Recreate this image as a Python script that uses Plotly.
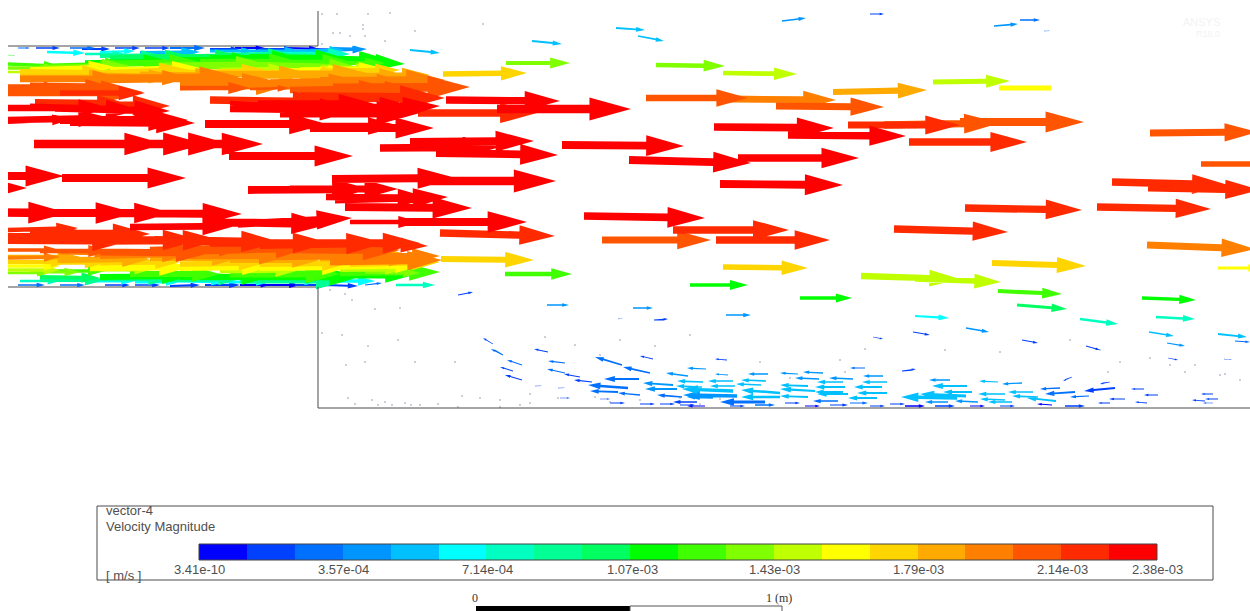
import plotly.graph_objects as go

# Legend data
legend_title = "vector-4"
legend_variable = "Velocity Magnitude"
legend_unit = "[ m/s ]"
tick_labels = ["3.41e-10", "3.57e-04", "7.14e-04", "1.07e-03", "1.43e-03", "1.79e-03", "2.14e-03", "2.38e-03"]
tick_positions = [199, 343, 487, 632, 774, 918, 1062, 1157]
band_colors = ["#0000ff", "#0040ff", "#0070ff", "#0095ff", "#00c0ff", "#00ffff", "#00ffc0", "#00ff95", "#00ff60", "#00ff00",
               "#40ff00", "#80ff00", "#bfff00", "#ffff00", "#ffd500", "#ffaa00", "#ff8000", "#ff5500", "#ff2a00", "#ff0000"]

# Vectors: tail x, tail y, tip x, tip y, colour band
upper_jet = [
    (18,48,30,48,2),(36,48,60,48,1),(70,48,95,48,2),(82,49,110,49,1),(115,48,140,48,1),(145,48,170,48,1),(170,48,205,48,2),(210,49,240,49,1),
    (235,48,265,48,0),(260,49,295,49,1),(285,48,320,49,0),(310,49,345,50,1),(330,48,365,49,3),
    (47,52,85,53,5),(100,52,135,51,5),(85,54,125,54,6),(210,51,255,51,4),(250,51,300,51,4),(295,51,345,50,4),(320,51,367,49,3),(140,53,200,52,4),
    (8,55,15,56,9),(110,58,190,56,8),(160,57,240,56,8),(100,56,160,55,7),(220,55,290,54,7),(280,54,350,54,6),
    (85,63,170,61,9),(170,60,260,60,9),(210,58,300,58,9),(250,57,345,58,9),(290,58,390,60,9),(310,58,405,64,9),
    (8,64,60,66,10),(50,66,130,64,10),(100,64,200,62,10),(200,62,300,62,10),(250,63,355,63,10),(320,63,385,63,10),
    (8,68,60,68,11),(40,68,130,66,11),(160,66,270,65,11),(260,65,360,68,11),(320,67,372,68,12),
    (30,70,115,67,13),(110,70,200,68,13),(280,70,350,71,13),(300,70,385,69,13),(220,70,290,69,12),
    (20,72,110,73,14),(90,74,190,70,14),(180,73,270,71,14),(270,72,345,73,14),(320,71,400,70,14),
    (8,72,50,72,12),(20,78,120,78,15),(90,75,175,77,15),(140,74,220,75,15),(210,74,310,74,15),(250,75,370,74,15),(300,78,415,78,15),(340,76,430,75,15),
    (20,79,125,79,16),(100,77,190,78,16),(110,79,240,77,16),(180,82,270,80,16),(270,82,355,80,16),(320,81,445,80,16),(180,87,290,85,16),
    (8,86,60,86,17),(30,88,80,88,17),(180,88,250,88,17),(250,89,290,88,17),(290,90,390,88,17),(333,88,470,87,17),(280,85,420,86,16),
    (8,92,143,92,17),(60,93,145,93,18),(30,85,110,86,17),(300,97,445,98,18),(295,92,425,92,17),(210,100,330,102,18),
    (50,104,170,106,18),(35,102,125,103,18),
]
red_core = [
    (8,108,110,108,19),(30,107,140,110,19),(55,108,170,111,19),(8,122,72,119,19),(8,120,110,118,19),(60,120,188,120,19),(70,122,195,123,19),
    (230,108,360,110,19),(230,103,300,107,19),(258,104,375,104,19),(290,108,420,108,19),(320,110,440,106,19),(280,113,420,113,19),
    (205,124,327,124,19),(310,128,434,128,19),(297,126,400,126,19),
    (34,144,165,144,19),(70,144,205,144,19),(95,144,230,144,19),(130,144,263,144,19),(229,156,353,156,19),
    (-60,176,64,176,19),(62,178,186,178,19),(-90,188,27,188,19),
    (248,190,370,189,19),(290,189,398,189,19),(332,179,456,178,19),(420,181,556,181,19),(335,200,448,197,19),(326,197,430,198,19),(345,207,472,208,19),
    (-60,212,68,213,19),(8,213,135,213,19),(50,213,172,213,19),(115,213,242,214,19),
    (130,227,235,226,19),(238,224,352,218,19),(280,222,340,222,19),(350,222,420,222,19),(400,222,527,222,19),(205,222,330,224,19),
    (418,113,537,113,18),(446,100,560,101,19),(497,109,631,109,19),(410,142,534,141,19),(380,148,500,147,19),(436,153,558,155,19),
]
lower_jet = [
    (8,230,78,228,18),(30,233,150,234,18),(8,240,130,241,18),(80,240,200,240,18),(100,241,220,240,18),(155,240,280,242,18),(210,243,330,243,18),
    (260,245,385,243,18),(300,243,420,243,18),(340,243,428,246,18),(8,236,100,236,18),
    (8,250,60,250,17),(40,251,110,251,17),(100,252,210,253,17),(200,251,310,248,17),(150,250,250,247,17),(280,250,400,250,17),
    (8,258,60,257,16),(60,253,110,254,16),(100,256,190,254,16),(190,256,290,256,16),(270,257,370,256,16),(330,262,442,260,16),(350,256,440,256,16),
    (8,257,80,257,15),(60,260,150,259,15),(150,258,240,258,15),(230,260,320,260,15),(320,258,420,258,15),
    (8,262,70,262,14),(40,262,105,263,14),(100,263,180,262,14),(180,264,265,263,14),(260,264,350,263,14),(350,264,440,262,14),
    (8,266,60,266,13),(90,268,190,267,13),(180,268,270,267,13),(260,268,350,267,13),(340,267,420,266,13),
    (8,270,60,270,12),(100,270,150,270,12),(220,271,300,270,12),(340,270,405,269,12),
    (8,273,50,273,11),(30,272,80,272,11),(50,271,105,271,10),(130,274,220,274,10),(230,274,340,274,10),(340,273,440,272,10),(365,272,420,273,11),
    (100,277,190,276,9),(180,277,270,277,9),(260,277,360,277,9),(330,276,410,276,9),
    (40,277,100,278,8),(40,280,105,280,7),(100,279,170,279,7),(170,280,240,279,7),(240,280,350,280,7),
    (20,281,60,281,6),(90,281,135,281,5),(135,282,180,282,5),(180,281,225,282,5),(225,282,270,282,5),(270,281,320,281,5),(320,281,375,281,5),
    (18,285,45,285,2),(60,285,85,285,2),(105,285,130,285,1),(135,285,160,285,1),(170,286,200,285,1),(205,285,240,285,1),(240,285,270,285,0),
    (265,285,300,285,0),(295,285,330,285,1),(325,285,358,286,1),(365,285,382,283,2),
]
outer_flow = [
    (410,50,440,53,4),(532,41,562,44,4),(616,28,645,30,4),(638,36,664,41,4),(782,21,806,18,3),(870,14,884,14,1),
    (994,26,1018,24,3),(1020,20,1040,20,2),(1044,31,1050,31,2),(506,63,570,63,11),(443,74,527,73,14),(656,65,725,66,11),(723,73,797,74,12),
    (833,92,927,90,15),(933,82,1010,81,12),(646,98,748,98,17),(730,99,836,100,16),(776,106,884,107,17),
    (714,127,834,128,19),(788,135,906,136,19),(848,125,960,125,18),(884,125,1000,123,17),(960,122,1084,122,17),(909,142,1027,142,18),
    (1150,133,1258,132,17),(1201,164,1290,164,17),(562,145,684,146,19),(629,160,751,163,19),(738,158,859,158,19),(720,184,843,185,19),
    (1112,182,1228,185,18),(1148,188,1260,190,18),(965,208,1082,210,18),(1097,207,1211,209,18),
    (584,216,705,218,19),(673,230,789,230,18),(602,240,711,240,17),(716,240,830,240,18),(894,229,1008,232,18),(440,233,555,236,18),
    (1147,245,1255,249,16),(723,267,808,268,14),(992,263,1086,266,14),(1218,268,1262,268,13),(441,259,534,260,14),
    (861,276,960,279,12),(915,279,1001,282,12),(998,291,1062,294,10),(1017,305,1067,309,8),(1142,298,1196,300,9),(690,285,748,285,9),(800,298,852,298,9),
    (505,274,572,274,10),(396,285,435,285,6),
    (915,316,949,318,5),(1080,319,1118,324,6),(1156,317,1195,319,6),(1149,332,1174,336,4),(1218,334,1247,337,4),
    (966,328,989,332,3),(913,332,930,335,1),(1167,343,1185,346,3),(1022,340,1038,343,1),(1086,346,1100,350,1),(1235,341,1250,342,2),
    (547,305,569,305,3),(633,308,653,308,3),(726,315,751,315,3),(458,295,473,292,1),(618,319,623,318,1),(654,320,668,319,1),
]
recirculation = [
    (493,344,483,338,1),(503,355,491,349,2),(548,352,534,349,1),(522,365,507,360,2),(513,371,500,367,1),(522,380,505,375,1),(565,363,548,361,2),
    (565,373,547,369,2),(580,377,564,374,1),(622,365,595,357,2),(653,359,640,356,1),(650,373,623,367,2),(688,376,666,373,3),(706,369,687,368,3),
    (728,375,715,374,3),(768,374,748,374,3),(727,360,715,359,1),(639,379,604,379,2),(592,382,574,380,1),(628,388,588,385,2),(673,385,643,383,3),
    (703,382,677,381,4),(733,381,708,381,4),(766,381,741,380,4),(761,385,736,384,4),(735,386,710,386,4),(702,387,676,386,4),(733,391,682,389,4),
    (677,389,645,389,3),(780,393,741,390,4),(780,397,741,397,4),(737,396,683,395,3),(682,397,657,395,2),(640,395,618,393,2),(765,402,720,402,2),
    (713,398,687,397,3),(618,392,590,391,2),(697,402,673,402,1),(705,406,687,406,0),
    (798,374,780,373,3),(823,373,803,372,3),(819,379,795,378,3),(853,379,829,378,3),(843,382,817,382,4),(808,386,780,385,4),(845,387,815,387,4),
    (815,391,780,389,4),(843,392,815,392,4),(848,394,817,394,4),(808,397,780,396,4),(838,401,813,401,2),(877,398,848,398,4),(865,368,850,368,2),
    (883,376,863,376,3),(887,382,862,382,4),(882,387,854,387,4),(887,393,857,393,4),(950,380,929,380,3),(967,386,932,386,4),(972,392,943,392,4),
    (966,396,920,394,4),(957,398,901,397,4),(948,402,925,402,3),(998,382,979,381,4),(1022,383,1002,384,3),(1005,394,978,394,4),(1033,392,1008,392,4),
    (1038,397,1012,396,4),(1005,400,980,399,4),(1012,402,988,402,4),(978,402,955,401,3),(1056,401,1027,398,4),(1052,405,1037,404,0),
    (1060,388,1040,389,2),(1075,392,1045,394,2),(1089,396,1070,397,2),(1115,388,1084,391,1),(1110,382,1100,384,1),(1072,377,1063,381,1),
    (1125,399,1109,399,1),(1110,403,1098,403,1),(1144,389,1131,389,1),(1158,395,1144,395,1),(1147,403,1135,402,1),(1218,399,1205,399,1),(1213,394,1201,394,1),
    (1213,403,1203,403,1),(1205,401,1192,400,1),(1168,358,1178,360,1),(1224,359,1232,360,1),(873,337,883,339,1),(902,371,916,369,1),
    (805,406,820,406,0),(830,405,848,405,1),(870,406,885,406,1),(905,406,925,406,0),(935,406,955,406,1),(970,406,985,406,0),(1000,406,1015,406,1),(1065,406,1085,406,1),
    (610,403,625,403,1),(640,404,655,404,1),(560,398,570,398,1),(600,399,610,399,1),(535,386,542,386,1),(558,388,565,388,1),
    (730,406,745,406,1),(755,405,775,405,2),(785,403,800,403,1),(660,404,675,404,1),(680,405,695,405,1),(850,403,868,403,2),(890,404,905,404,1),
]
stub_x = [999, 1051]
stub_y = [88, 88]
stub_band = 13

speck_x = [322,337,368,390,333,340,363,363,350,365,385,322,415,483,330,345,352,375,400,322,342,368,398,346,365,415,455,
           348,411,438,462,480,500,520,530,355,372,378,385,392,405,420,458,500,530,558,595,610,640,680,700,720,545,575,600,
           620,655,690,760,790,865,945,1000,1070,1100,1150,1170,1220,1240,840,845,1120,1108,1185,1195,1225]
speck_y = [14,14,14,13,33,33,25,29,36,36,41,44,31,24,290,294,300,309,308,333,335,346,340,365,362,362,362,
           398,405,404,396,398,400,405,403,404,400,405,402,405,403,405,407,407,394,398,397,402,400,398,404,399,337,345,355,
           340,346,335,362,378,349,350,352,340,350,358,365,375,380,360,372,362,372,372,365,374]

fig = go.Figure()

all_vectors = upper_jet + lower_jet + red_core + outer_flow + recirculation


def arrow_outline(x0, y0, x1, y1):
    dx, dy = x1 - x0, y1 - y0
    length = (dx * dx + dy * dy) ** 0.5
    ux, uy = dx / length, dy / length
    nx, ny = -uy, ux
    hl, hw, sw = 0.31 * length, 0.085 * length, 0.032 * length
    bx, by = x1 - ux * hl, y1 - uy * hl
    xs = [x0 + nx * sw, bx + nx * sw, bx + nx * hw, x1, bx - nx * hw, bx - nx * sw, x0 - nx * sw, x0 + nx * sw, None]
    ys = [y0 + ny * sw, by + ny * sw, by + ny * hw, y1, by - ny * hw, by - ny * sw, y0 - ny * sw, y0 + ny * sw, None]
    return xs, ys


for band, color in enumerate(band_colors):
    xs, ys = [], []
    for x0, y0, x1, y1, b in all_vectors:
        if b == band:
            px, py = arrow_outline(x0, y0, x1, y1)
            xs += px
            ys += py
    if xs:
        fig.add_trace(go.Scatter(x=xs, y=ys, mode="lines", fill="toself", fillcolor=color,
                                 line=dict(color=color, width=0), hoverinfo="skip", showlegend=False))

fig.add_trace(go.Scatter(x=stub_x, y=stub_y, mode="lines", line=dict(color=band_colors[stub_band], width=5),
                         hoverinfo="skip", showlegend=False))
fig.add_trace(go.Scatter(x=speck_x, y=speck_y, mode="markers", marker=dict(color="#7a88a0", size=1.5, line=dict(width=0)),
                         hoverinfo="skip", showlegend=False))

# Colour bar
n = len(band_colors)
edges = [199 + i * (1157 - 199) / n for i in range(n + 1)]
scale = []
for i, c in enumerate(band_colors):
    scale += [[i / n, c], [(i + 1) / n, c]]
fig.add_trace(go.Heatmap(z=[list(range(n))], x=edges, y=[544, 560], zmin=-0.5, zmax=n - 0.5, colorscale=scale,
                         showscale=False, hoverinfo="skip"))

LINE = "#4a4a4a"
shapes = [
    dict(type="rect", x0=0, x1=8, y0=0, y1=500, fillcolor="white", line=dict(width=0), layer="above"),
    dict(type="line", x0=318, x1=318, y0=11, y1=46, line=dict(color=LINE, width=1)),
    dict(type="line", x0=318, x1=318, y0=287, y1=408, line=dict(color=LINE, width=1)),
    dict(type="line", x0=318, x1=1250, y0=408, y1=408, line=dict(color=LINE, width=1)),
    dict(type="line", x0=8, x1=318, y0=46, y1=46, line=dict(color=LINE, width=1), layer="below"),
    dict(type="line", x0=8, x1=318, y0=287, y1=287, line=dict(color=LINE, width=1), layer="below"),
    dict(type="rect", x0=97, x1=1213, y0=506, y1=580, line=dict(color=LINE, width=1)),
    dict(type="rect", x0=199, x1=1157, y0=544, y1=560, line=dict(color="#444444", width=1)),
    dict(type="rect", x0=476, x1=630, y0=606, y1=612, fillcolor="black", line=dict(width=0)),
    dict(type="rect", x0=630, x1=782, y0=606, y1=612, fillcolor="white", line=dict(color="#555555", width=1)),
]
FONT = dict(family="Liberation Sans", size=13, color="#505050")
SERIF = dict(family="Liberation Serif", size=12, color="#333333")
annotations = [
    dict(x=104, y=510, text=legend_title, xanchor="left", font=FONT),
    dict(x=104, y=526, text=legend_variable, xanchor="left", font=FONT),
    dict(x=104, y=575, text=legend_unit, xanchor="left", font=FONT),
    dict(x=475, y=598, text="0", xanchor="center", font=SERIF),
    dict(x=779, y=598, text="1 (m)", xanchor="center", font=SERIF),
    dict(x=1201, y=22, text="ANSYS", xanchor="center", font=dict(family="Liberation Sans", size=11, color="#f3f3f3")),
    dict(x=1208, y=34, text="R18.0", xanchor="center", font=dict(family="Liberation Sans", size=9, color="#f3f3f3")),
]
for label, pos in zip(tick_labels, tick_positions):
    annotations.append(dict(x=pos, y=569, text=label, xanchor="center", font=FONT))
for a in annotations:
    a.update(xref="x", yref="y", showarrow=False, yanchor="middle")

fig.update_layout(
    width=1250, height=611, margin=dict(l=0, r=0, t=0, b=0), plot_bgcolor="white", paper_bgcolor="white",
    xaxis=dict(range=[0, 1250], visible=False, fixedrange=True),
    yaxis=dict(range=[611, 0], visible=False, fixedrange=True),
    shapes=shapes, annotations=annotations, showlegend=False,
)
fig.write_html("out.html", config={"displayModeBar": False},
               post_script="document.body.style.margin='0';document.documentElement.style.overflow='hidden';")
